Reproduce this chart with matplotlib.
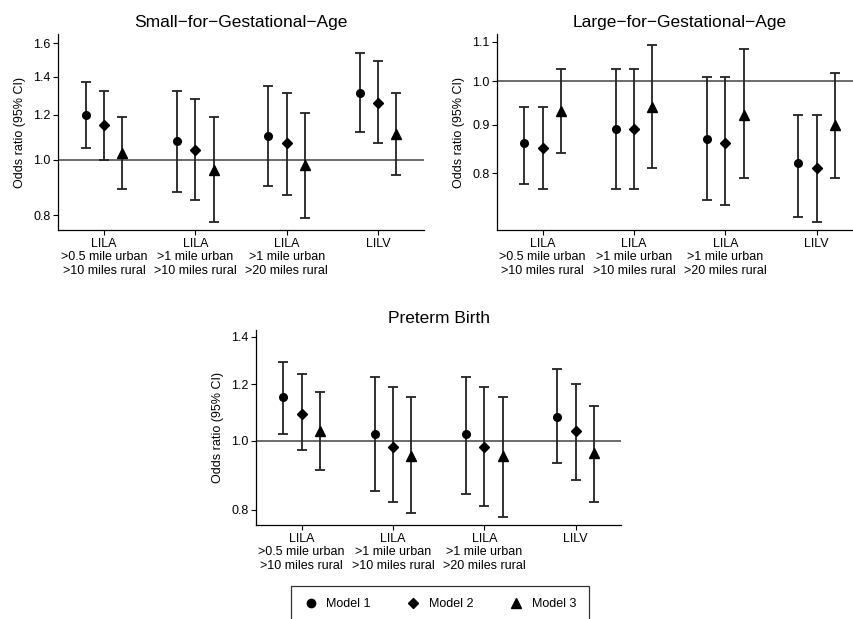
import matplotlib
matplotlib.use("Agg")
import matplotlib.pyplot as plt
from matplotlib.lines import Line2D
from matplotlib.ticker import FixedLocator, NullLocator

plt.rcParams['font.family'] = ['Liberation Sans', 'DejaVu Sans']

groups = ["LILA\n>0.5 mile urban\n>10 miles rural",
          "LILA\n>1 mile urban\n>10 miles rural",
          "LILA\n>1 mile urban\n>20 miles rural",
          "LILV"]
models = ["Model 1", "Model 2", "Model 3"]
markers = ["o", "D", "^"]
msizes = [5.5, 5, 6.5]

# odds ratios per model (rows) and group (cols)
sga_or = [[1.20, 1.08, 1.10, 1.31],
          [1.15, 1.04, 1.07, 1.26],
          [1.03, 0.96, 0.98, 1.11]]
sga_lo = [[1.05, 0.88, 0.90, 1.12],
          [1.00, 0.85, 0.87, 1.07],
          [0.89, 0.78, 0.79, 0.94]]
sga_hi = [[1.37, 1.32, 1.35, 1.54],
          [1.32, 1.28, 1.31, 1.49],
          [1.19, 1.19, 1.21, 1.31]]

lga_or = [[0.86, 0.89, 0.87, 0.82],
          [0.85, 0.89, 0.86, 0.81],
          [0.93, 0.94, 0.92, 0.90]]
lga_lo = [[0.78, 0.77, 0.75, 0.72],
          [0.77, 0.77, 0.74, 0.71],
          [0.84, 0.81, 0.79, 0.79]]
lga_hi = [[0.94, 1.03, 1.01, 0.92],
          [0.94, 1.03, 1.01, 0.92],
          [1.03, 1.09, 1.08, 1.02]]

ptb_or = [[1.15, 1.02, 1.02, 1.08],
          [1.09, 0.98, 0.98, 1.03],
          [1.03, 0.95, 0.95, 0.96]]
ptb_lo = [[1.02, 0.85, 0.84, 0.93],
          [0.97, 0.82, 0.81, 0.88],
          [0.91, 0.79, 0.78, 0.82]]
ptb_hi = [[1.29, 1.23, 1.23, 1.26],
          [1.24, 1.19, 1.19, 1.20],
          [1.17, 1.15, 1.15, 1.12]]

offsets = [-0.2, 0.0, 0.2]


def panel(ax, title, ors, los, his, yticks, ylim):
    ax.set_yscale('log')
    for m in range(3):
        xs = [g + 1 + offsets[m] for g in range(4)]
        lower = [ors[m][g] - los[m][g] for g in range(4)]
        upper = [his[m][g] - ors[m][g] for g in range(4)]
        ax.errorbar(xs, ors[m], yerr=[lower, upper], fmt=markers[m], color='black',
                    ms=msizes[m], ecolor='#222222', elinewidth=1.3, capsize=3.5,
                    capthick=1.3, zorder=3)
    ax.axhline(1.0, color='#444444', lw=1.1, zorder=1)
    ax.set_xlim(0.5, 4.5)
    ax.set_ylim(*ylim)
    ax.yaxis.set_major_locator(FixedLocator(yticks))
    ax.yaxis.set_minor_locator(NullLocator())
    ax.set_yticklabels(["%.1f" % t for t in yticks])
    ax.set_xticks([1, 2, 3, 4])
    ax.set_xticklabels(groups, linespacing=1.2)
    ax.tick_params(axis='both', labelsize=9, length=3.5, width=0.8, pad=2)
    ax.set_ylabel("Odds ratio (95% CI)", fontsize=9, labelpad=5)
    ax.set_title(title, fontsize=12.5, pad=5)
    for s in ['top', 'right']:
        ax.spines[s].set_visible(False)
    for s in ['left', 'bottom']:
        ax.spines[s].set_linewidth(0.9)


fig = plt.figure(figsize=(8.54, 6.19), dpi=100)
ax1 = fig.add_axes([0.0683, 0.6284, 0.4278, 0.3162])
ax2 = fig.add_axes([0.582, 0.6284, 0.4278, 0.3162])
ax3 = fig.add_axes([0.2998, 0.1519, 0.4278, 0.3150])

panel(ax1, "Small\u2212for\u2212Gestational\u2212Age", sga_or, sga_lo, sga_hi,
      [0.8, 1.0, 1.2, 1.4, 1.6], (0.754, 1.66))
panel(ax2, "Large\u2212for\u2212Gestational\u2212Age", lga_or, lga_lo, lga_hi,
      [0.8, 0.9, 1.0, 1.1], (0.697, 1.12))
panel(ax3, "Preterm Birth", ptb_or, ptb_lo, ptb_hi,
      [0.8, 1.0, 1.2, 1.4], (0.761, 1.43))

handles = [Line2D([], [], marker=markers[m], color='black', ls='none', ms=msizes[m] + 0.5)
           for m in range(3)]
leg = fig.legend(handles, models, ncol=3, loc='center',
                 bbox_to_anchor=(440 / 854, 1 - 604 / 619), fontsize=9,
                 frameon=True, fancybox=False, edgecolor='black',
                 handlelength=1.1, handletextpad=0.7, columnspacing=2.85,
                 borderpad=1.0, borderaxespad=0)
leg.get_frame().set_linewidth(0.9)

fig.savefig("out.png", dpi=100, facecolor='white')
